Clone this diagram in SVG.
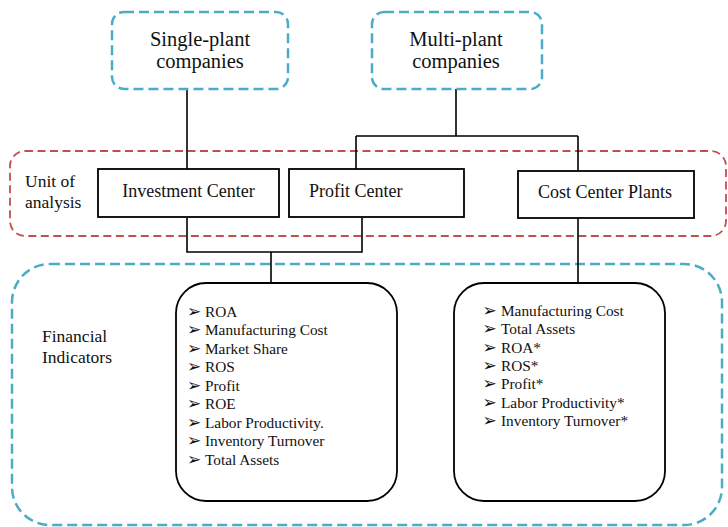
<svg xmlns="http://www.w3.org/2000/svg" width="728" height="527" viewBox="0 0 728 527">
<style>
text{font-family:"Liberation Serif","Times New Roman",serif;fill:#111}
.blue{fill:none;stroke:#4BACC6;stroke-width:2.5;stroke-dasharray:10 5}
.red{fill:none;stroke:#C0504D;stroke-width:1.8;stroke-dasharray:8 4.5}
.box{fill:#fff;stroke:#000;stroke-width:1.8}
.conn{fill:none;stroke:#000;stroke-width:1.6}
.t20{font-size:20.5px}
.t18{font-size:18px}
.t17{font-size:17.5px}
.li text{font-size:15.3px}
.bul text{font-family:"DejaVu Sans",sans-serif;font-size:17px}
</style>
<g id="unit-of-analysis">
<rect class="red" x="10" y="151" width="716" height="85" rx="15"/>
<text class="t17" x="25" y="187">Unit of</text>
<text class="t17" x="25" y="208">analysis</text>
</g>
<g id="financial-indicators">
<rect class="blue" x="12" y="264" width="710" height="261" rx="38"/>
<text class="t17" x="42" y="342">Financial</text>
<text class="t17" x="42" y="363">Indicators</text>
</g>
<g id="connectors">
<path class="conn" d="M187 89V169"/>
<path class="conn" d="M456 89V136M356 136H578M356 136V169M578 136V171"/>
<path class="conn" d="M187 218V252H362V218M271 252V283"/>
<path class="conn" d="M578 218V283"/>
</g>
<g id="single-plant">
<rect class="blue" x="112" y="12" width="176" height="77" rx="12"/>
<text class="t20" x="200" y="46" text-anchor="middle">Single-plant</text>
<text class="t20" x="200" y="68" text-anchor="middle">companies</text>
</g>
<g id="multi-plant">
<rect class="blue" x="372" y="12" width="170" height="77" rx="12"/>
<text class="t20" x="456" y="46" text-anchor="middle">Multi-plant</text>
<text class="t20" x="456" y="68" text-anchor="middle">companies</text>
</g>
<g id="investment-center">
<rect class="box" x="98" y="169" width="181" height="48"/>
<text class="t18" x="188.5" y="197" text-anchor="middle">Investment Center</text>
</g>
<g id="profit-center">
<rect class="box" x="289" y="169" width="175" height="48"/>
<text class="t18" x="309" y="197">Profit Center</text>
</g>
<g id="cost-center-plants">
<rect class="box" x="518" y="171" width="176" height="47"/>
<text class="t18" x="538" y="198">Cost Center Plants</text>
</g>
<g id="indicators-left">
<rect class="box" x="176" y="283" width="221" height="218" rx="30"/>
<g class="bul">
<text x="187" y="316.5">➢</text><text x="187" y="335">➢</text><text x="187" y="353.5">➢</text><text x="187" y="372">➢</text><text x="187" y="390.5">➢</text><text x="187" y="409">➢</text><text x="187" y="427.5">➢</text><text x="187" y="446">➢</text><text x="187" y="464.5">➢</text>
</g>
<g class="li">
<text x="205" y="316.5">ROA</text>
<text x="205" y="335">Manufacturing Cost</text>
<text x="205" y="353.5">Market Share</text>
<text x="205" y="372">ROS</text>
<text x="205" y="390.5">Profit</text>
<text x="205" y="409">ROE</text>
<text x="205" y="427.5">Labor Productivity.</text>
<text x="205" y="446">Inventory Turnover</text>
<text x="205" y="464.5">Total Assets</text>
</g>
</g>
<g id="indicators-right">
<rect class="box" x="454" y="283" width="211" height="218" rx="30"/>
<g class="bul">
<text x="482.5" y="316">➢</text><text x="482.5" y="334.3">➢</text><text x="482.5" y="352.6">➢</text><text x="482.5" y="370.9">➢</text><text x="482.5" y="389.2">➢</text><text x="482.5" y="407.5">➢</text><text x="482.5" y="425.8">➢</text>
</g>
<g class="li">
<text x="501" y="316">Manufacturing Cost</text>
<text x="501" y="334.3">Total Assets</text>
<text x="501" y="352.6">ROA*</text>
<text x="501" y="370.9">ROS*</text>
<text x="501" y="389.2">Profit*</text>
<text x="501" y="407.5">Labor Productivity*</text>
<text x="501" y="425.8">Inventory Turnover*</text>
</g>
</g>
</svg>
